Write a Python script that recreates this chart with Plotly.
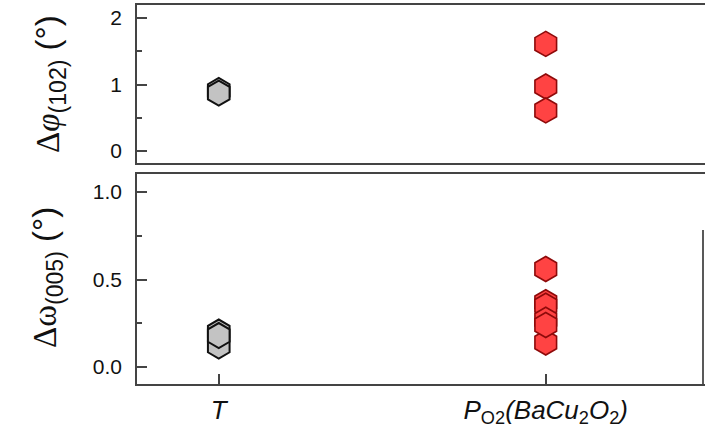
import plotly.graph_objects as go

# Categories (x positions 0 and 1)
categories = ["T", "PO2"]
category_labels = [
    "<i>T</i>",
    "<i>P</i><sub>O2</sub><i>(BaCu</i><sub>2</sub><i>O</i><sub>2</sub><i>)</i>",
]

# Δφ(102) values (degrees)
phi_T = [0.91, 0.87]
phi_PO2 = [1.61, 0.97, 0.61]

# Δω(005) values (degrees)
omega_T = [0.12, 0.20, 0.18]
omega_PO2 = [0.56, 0.14, 0.37, 0.35, 0.27, 0.24]

GRAY_FILL = "#c3c3c3"
GRAY_LINE = "#111111"
RED_FILL = "#ff4343"
RED_LINE = "#8e0a0a"
AXIS = "#444444"
MSIZE = 25

fig = go.Figure()

def add_points(values, xpos, fill, line, lw, xa, ya):
    fig.add_trace(go.Scatter(
        x=[xpos] * len(values), y=values, mode="markers",
        marker=dict(symbol="hexagon", size=MSIZE, color=fill,
                    line=dict(color=line, width=lw)),
        xaxis=xa, yaxis=ya, showlegend=False, hoverinfo="y",
    ))

add_points(phi_T, 0, GRAY_FILL, GRAY_LINE, 2, "x2", "y2")
add_points(phi_PO2, 1, RED_FILL, RED_LINE, 1.6, "x2", "y2")
add_points(omega_T, 0, GRAY_FILL, GRAY_LINE, 2, "x", "y")
add_points(omega_PO2, 1, RED_FILL, RED_LINE, 1.6, "x", "y")

xdom = [137 / 705, 1.0]
xrange_ = [-0.25, 1.487]
tickfont = dict(family="Liberation Sans, Arial, sans-serif", size=21, color="#111")

fig.update_layout(
    width=705, height=429,
    margin=dict(l=0, r=0, t=0, b=0, autoexpand=False),
    paper_bgcolor="white", plot_bgcolor="white",
    xaxis=dict(
        domain=xdom, range=xrange_, anchor="y", automargin=False,
        tickvals=[0, 1], ticktext=category_labels,
        ticks="inside", ticklen=10, tickwidth=1.5, tickcolor=AXIS,
        showline=True, mirror=True, linecolor=AXIS, linewidth=1.5,
        showgrid=False, zeroline=False,
        tickfont=dict(family="Liberation Sans, Arial, sans-serif", size=26, color="#111"),
        ticklabelstandoff=2,
    ),
    yaxis=dict(
        domain=[45 / 429, 255 / 429], range=[-0.097, 1.103], anchor="x", automargin=False,
        tickvals=[0, 0.5, 1.0], tickformat=".1f",
        ticks="inside", ticklen=10, tickwidth=1.5, tickcolor=AXIS,
        minor=dict(ticks="inside", ticklen=5, tickwidth=1.5, tickcolor=AXIS, dtick=0.25, tick0=0),
        showline=True, linecolor=AXIS, linewidth=1.5,
        showgrid=False, zeroline=False, tickfont=tickfont, ticklabelstandoff=9,
    ),
    xaxis2=dict(
        domain=xdom, range=xrange_, anchor="y2", automargin=False,
        showticklabels=False, ticks="",
        showline=True, mirror=True, linecolor=AXIS, linewidth=1.5,
        showgrid=False, zeroline=False,
    ),
    yaxis2=dict(
        domain=[266 / 429, 424 / 429], range=[-0.18, 2.195], anchor="x2", automargin=False,
        tickvals=[0, 1, 2],
        ticks="inside", ticklen=10, tickwidth=1.5, tickcolor=AXIS,
        minor=dict(ticks="inside", ticklen=5, tickwidth=1.5, tickcolor=AXIS, dtick=0.5, tick0=0),
        showline=True, linecolor=AXIS, linewidth=1.5,
        showgrid=False, zeroline=False, tickfont=tickfont, ticklabelstandoff=9,
    ),
)

# Right edge line on the lower panel
fig.add_shape(type="line", xref="paper", yref="paper",
              x0=703 / 705, x1=703 / 705, y0=45 / 429, y1=(429 - 230) / 429,
              line=dict(color="#222", width=1.5))

title_font = dict(family="Liberation Sans, Arial, sans-serif", size=33, color="#111")
fig.add_annotation(
    text="<span style='font-family:Liberation Serif'>Δ<i>φ</i></span><sub>(102)</sub> (°)",
    xref="paper", yref="paper", x=50 / 705, y=(429 - 84) / 429,
    textangle=-90, showarrow=False, font=title_font,
    xanchor="center", yanchor="middle",
)
fig.add_annotation(
    text="<span style='font-family:Liberation Serif'>Δω</span><sub>(005)</sub> (°)",
    xref="paper", yref="paper", x=47 / 705, y=(429 - 278) / 429,
    textangle=-90, showarrow=False, font=title_font,
    xanchor="center", yanchor="middle",
)

fig.write_html("out.html")
